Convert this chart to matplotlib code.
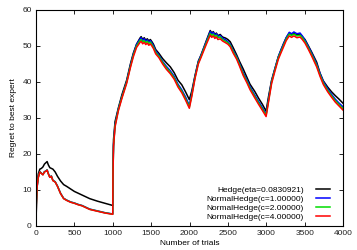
import matplotlib
matplotlib.use("Agg")
import matplotlib.pyplot as plt

trials = [
    0, 5, 15, 30, 50, 70, 90, 110, 130, 145, 160, 180, 200, 220, 250, 280, 320, 360, 400, 450,
    500, 550, 600, 650, 700, 800, 900, 1000,
    1003, 1010, 1030, 1073, 1120, 1181, 1230, 1268, 1310, 1355, 1370, 1390, 1410, 1430, 1450,
    1470, 1490, 1510, 1530, 1560, 1600, 1650, 1700, 1750, 1800, 1850, 1900, 1950, 1998,
    2030, 2072, 2115, 2150, 2180, 2220, 2250, 2270, 2290, 2310, 2330, 2350, 2370, 2400, 2430,
    2470, 2500, 2530, 2570, 2615, 2650, 2700, 2750, 2788, 2850, 2900, 2950, 2998,
    3030, 3070, 3110, 3157, 3190, 3222, 3260, 3300, 3330, 3360, 3400, 3440, 3470, 3505, 3550,
    3592, 3657, 3700, 3744, 3800, 3850, 3900, 3950, 4000,
]

hedge = [
    0, 7, 11.5, 14.5, 15.8, 16.0, 16.4, 17.2, 17.6, 17.9, 17.0, 16.2, 16.0, 15.8, 15.0, 13.8,
    12.5, 11.5, 11.0, 10.3, 9.6, 9.1, 8.6, 8.1, 7.6, 6.9, 6.3, 5.7,
    16.0, 24.0, 29.0, 32.8, 36.5, 40.5, 45.0, 48.0, 50.5, 52.2, 52.6, 51.8, 52.3, 51.6, 52.0,
    51.4, 51.8, 51.2, 50.5, 49.0, 48.0, 46.5, 45.3, 44.2, 42.6, 40.5, 39.2, 37.2, 35.1,
    37.5, 41.8, 45.8, 47.5, 49.2, 51.5, 53.2, 54.3, 53.6, 54.0, 53.2, 53.6, 52.9, 53.2, 52.5,
    52.2, 51.8, 51.2, 49.5, 47.5, 45.8, 43.6, 41.2, 39.4, 37.4, 35.5, 33.8, 31.9,
    36.0, 40.5, 43.5, 47.0, 48.8, 50.5, 52.3, 53.6, 53.2, 53.5, 53.1, 53.3, 52.6, 51.8, 50.0,
    48.3, 45.5, 42.5, 40.3, 38.6, 37.3, 36.2, 35.2, 34.1,
]

nh_c1 = [
    0, 6, 11, 13.6, 15.1, 14.7, 14.3, 15.1, 15.3, 15.6, 14.6, 13.6, 13.9, 12.7, 12.3, 11.1,
    9.1, 7.7, 7.2, 6.7, 6.4, 6.0, 5.7, 5.2, 4.7, 4.2, 3.7, 3.35,
    14.5, 22.6, 28.2, 32.5, 36.0, 40.1, 44.6, 47.7, 50.4, 51.9, 52.3, 51.5, 52.0, 51.3, 51.7,
    51.1, 51.5, 50.8, 50.1, 48.6, 47.5, 45.7, 44.3, 43.1, 41.6, 39.4, 37.8, 35.8, 33.5,
    36.8, 41.6, 45.6, 47.4, 49.1, 51.3, 52.9, 54.0, 53.4, 53.8, 53.0, 53.4, 52.7, 52.9, 52.2,
    51.7, 51.2, 50.5, 48.7, 47.0, 45.2, 42.6, 40.5, 38.7, 36.4, 34.6, 32.9, 31.1,
    35.3, 40.3, 43.5, 47.0, 48.8, 50.4, 52.3, 53.8, 53.4, 53.9, 53.4, 53.6, 52.8, 51.6, 49.8,
    48.0, 45.0, 42.4, 40.1, 38.1, 36.6, 35.2, 34.1, 33.1,
]

nh_c2 = [
    0, 6, 11, 13.55, 15.05, 14.65, 14.25, 15.05, 15.25, 15.55, 14.55, 13.55, 13.85, 12.65,
    12.25, 11.05, 9.05, 7.65, 7.15, 6.65, 6.35, 5.95, 5.65, 5.15, 4.65, 4.15, 3.65, 3.3,
    14.3, 22.3, 27.9, 32.3, 35.8, 39.9, 44.3, 47.4, 50.0, 51.5, 51.8, 51.1, 51.5, 50.9, 51.3,
    50.7, 51.1, 50.4, 49.7, 48.2, 47.2, 45.4, 43.9, 42.7, 41.2, 39.0, 37.4, 35.3, 33.1,
    36.4, 41.3, 45.3, 47.1, 48.8, 50.9, 52.5, 53.5, 52.9, 53.3, 52.6, 53.0, 52.3, 52.5, 51.8,
    51.3, 50.9, 50.2, 48.4, 46.7, 44.9, 42.2, 40.1, 38.3, 36.0, 34.2, 32.5, 30.8,
    34.9, 40.0, 43.2, 46.7, 48.4, 50.0, 51.9, 53.3, 52.9, 53.3, 52.8, 53.0, 52.3, 51.2, 49.4,
    47.6, 44.6, 42.0, 39.7, 37.7, 36.2, 34.8, 33.7, 32.6,
]

nh_c4 = [
    0, 6, 11, 13.5, 15.0, 14.6, 14.2, 15.0, 15.2, 15.5, 14.5, 13.5, 13.8, 12.6, 12.2, 11.0,
    9.0, 7.6, 7.1, 6.6, 6.3, 5.9, 5.6, 5.1, 4.6, 4.1, 3.6, 3.25,
    14.0, 22.0, 27.5, 32.0, 35.5, 39.6, 44.0, 47.0, 49.6, 51.0, 51.3, 50.6, 51.0, 50.4, 50.8,
    50.2, 50.6, 50.0, 49.3, 47.8, 46.8, 45.0, 43.5, 42.3, 40.8, 38.6, 37.0, 34.9, 32.7,
    36.0, 41.0, 45.0, 46.8, 48.4, 50.5, 52.0, 53.0, 52.4, 52.8, 52.1, 52.5, 51.8, 52.0, 51.4,
    50.9, 50.5, 49.8, 48.0, 46.3, 44.5, 41.8, 39.7, 37.9, 35.6, 33.8, 32.1, 30.4,
    34.5, 39.6, 42.8, 46.3, 48.0, 49.6, 51.5, 52.8, 52.4, 52.8, 52.3, 52.5, 51.8, 50.8, 49.0,
    47.2, 44.2, 41.6, 39.3, 37.3, 35.8, 34.4, 33.3, 32.2,
]

series = [
    ("Hedge(eta=0.0830921)", hedge, "black"),
    ("NormalHedge(c=1.00000)", nh_c1, "#0000ff"),
    ("NormalHedge(c=2.00000)", nh_c2, "#00dd00"),
    ("NormalHedge(c=4.00000)", nh_c4, "#ff0000"),
]

plt.rcParams["font.family"] = ["Liberation Sans", "DejaVu Sans"]
plt.rcParams["font.size"] = 6

fig = plt.figure(figsize=(3.57, 2.5), dpi=100)
ax = fig.add_axes([36 / 357, 24 / 250, 307 / 357, 216 / 250])

for label, vals, col in series:
    ax.plot(trials, vals, color=col, linewidth=1.1, label=label)

ax.set_xlim(0, 4000)
ax.set_ylim(0, 60)
ax.set_xticks(range(0, 4001, 500))
ax.set_yticks(range(0, 61, 10))
ax.tick_params(direction="in", length=3, width=0.6, top=True, right=True,
               labelcolor="#222222", pad=3)
for sp in ax.spines.values():
    sp.set_linewidth(0.8)

ax.set_xlabel("Number of trials", labelpad=2)
ax.set_ylabel("Regret to best expert", labelpad=4)

leg = ax.legend(loc="lower right", bbox_to_anchor=(0.971, 0.005), frameon=False,
                markerfirst=False, handlelength=1.7, handletextpad=1.4,
                labelspacing=0.12, borderpad=0, fontsize=6)

fig.savefig("out.png", dpi=100)
